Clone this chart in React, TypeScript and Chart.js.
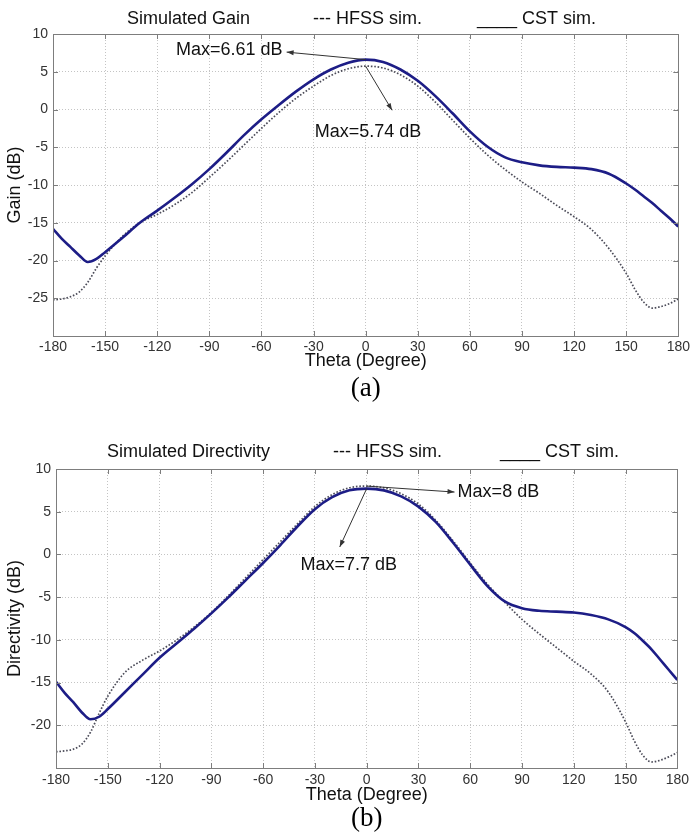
import React, { useEffect, useRef } from 'react';
import { Chart, registerables } from 'chart.js';

Chart.register(...registerables);

// ---------- data ----------
const angles = [
  -180, -175, -170, -165, -160, -155, -150, -140, -130, -120, -110, -100, -90, -80, -70, -60, -50, -40, -30,
  -20, -10, 0, 10, 20, 30, 40, 50, 60, 70, 80, 90, 100, 110, 120, 130, 140, 150, 155, 160, 165, 170, 175, 180,
];

const gainCst = [
  -15.8, -17.1, -18.2, -19.3, -20.2, -19.8, -18.9, -17.0, -15.0, -13.4, -11.7, -9.9, -7.9, -5.7, -3.4, -1.3,
  0.6, 2.4, 4.0, 5.3, 6.2, 6.61, 6.3, 5.3, 3.8, 1.8, -0.5, -2.9, -4.9, -6.3, -7.0, -7.4, -7.6, -7.7, -7.9,
  -8.5, -9.8, -10.6, -11.5, -12.4, -13.4, -14.4, -15.5,
];

const gainHfss = [
  -25.2, -25.1, -24.8, -24.2, -22.9, -21.0, -19.4, -16.8, -15.0, -13.9, -12.6, -11.0, -9.0, -6.9, -4.7, -2.5,
  -0.4, 1.5, 3.1, 4.5, 5.4, 5.74, 5.5, 4.6, 3.1, 1.0, -1.4, -3.8, -6.0, -7.9, -9.6, -11.1, -12.7, -14.2, -15.9,
  -18.4, -21.7, -23.8, -25.5, -26.3, -26.1, -25.7, -25.1,
];

const dirCst = [
  -14.9, -16.2, -17.3, -18.5, -19.3, -19.0, -18.1, -16.1, -14.1, -12.1, -10.4, -8.7, -6.9, -5.0, -3.0, -1.0,
  1.1, 3.3, 5.3, 6.7, 7.5, 7.7, 7.5, 6.8, 5.6, 3.8, 1.4, -1.2, -3.7, -5.5, -6.3, -6.6, -6.7, -6.8, -7.1,
  -7.6, -8.5, -9.2, -10.1, -11.1, -12.3, -13.5, -14.7,
];

const dirHfss = [
  -23.1, -23.0, -22.8, -22.2, -20.8, -18.6, -16.6, -13.8, -12.4, -11.3, -10.0, -8.5, -6.8, -4.8, -2.7, -0.6,
  1.5, 3.6, 5.6, 7.0, 7.8, 8.0, 7.8, 7.1, 5.9, 4.0, 1.6, -1.0, -3.5, -5.6, -7.6, -9.3, -10.9, -12.5, -14.0,
  -16.1, -19.6, -21.8, -23.5, -24.3, -24.1, -23.7, -23.2,
];

const thetaTicks = [-180, -150, -120, -90, -60, -30, 0, 30, 60, 90, 120, 150, 180];
const gainTicks = [-30, -25, -20, -15, -10, -5, 0, 5, 10];
const dirTicks = [-25, -20, -15, -10, -5, 0, 5, 10];

const SANS = '"Liberation Sans", Arial, Helvetica, sans-serif';
const SERIF = '"Liberation Serif", "Times New Roman", serif';

const maxOf = (a: number[]) => Math.max(...a);

type Note = { text: string; from: [number, number]; tip: [number, number]; at: [number, number]; align: CanvasTextAlign };
type Cfg = {
  titles: { text: string; x: number }[];
  titleY: number;
  caption: string;
  captionY: number;
  notes: Note[];
};

function makeDecor(cfg: Cfg) {
  return {
    id: 'decor',
    afterDraw(chart: any) {
      const { ctx, chartArea: a, scales } = chart;
      const xs = scales.x;
      const ys = scales.y;
      ctx.save();
      ctx.setLineDash([]);
      // box
      ctx.strokeStyle = '#7d7d7d';
      ctx.lineWidth = 1;
      ctx.strokeRect(Math.round(a.left) + 0.5, Math.round(a.top) + 0.5, Math.round(a.right - a.left), Math.round(a.bottom - a.top));
      // inward ticks
      const L = 5;
      ctx.beginPath();
      for (const t of xs.ticks) {
        const px = Math.round(xs.getPixelForValue(t.value)) + 0.5;
        ctx.moveTo(px, a.bottom);
        ctx.lineTo(px, a.bottom - L);
        ctx.moveTo(px, a.top);
        ctx.lineTo(px, a.top + L);
      }
      for (const t of ys.ticks) {
        const py = Math.round(ys.getPixelForValue(t.value)) + 0.5;
        ctx.moveTo(a.left, py);
        ctx.lineTo(a.left + L, py);
        ctx.moveTo(a.right, py);
        ctx.lineTo(a.right - L, py);
      }
      ctx.stroke();
      // title row
      ctx.fillStyle = '#111';
      ctx.font = `18px ${SANS}`;
      ctx.textBaseline = 'middle';
      ctx.textAlign = 'left';
      for (const t of cfg.titles) ctx.fillText(t.text, t.x, cfg.titleY);
      // annotations
      for (const n of cfg.notes) {
        const x0 = xs.getPixelForValue(n.from[0]);
        const y0 = ys.getPixelForValue(n.from[1]);
        const x1 = xs.getPixelForValue(n.tip[0]);
        const y1 = ys.getPixelForValue(n.tip[1]);
        ctx.strokeStyle = '#333';
        ctx.fillStyle = '#333';
        ctx.lineWidth = 1;
        ctx.beginPath();
        ctx.moveTo(x0, y0);
        ctx.lineTo(x1, y1);
        ctx.stroke();
        const ang = Math.atan2(y1 - y0, x1 - x0);
        const h = 7;
        const w = 2.5;
        ctx.beginPath();
        ctx.moveTo(x1, y1);
        ctx.lineTo(x1 - h * Math.cos(ang) + w * Math.sin(ang), y1 - h * Math.sin(ang) - w * Math.cos(ang));
        ctx.lineTo(x1 - h * Math.cos(ang) - w * Math.sin(ang), y1 - h * Math.sin(ang) + w * Math.cos(ang));
        ctx.closePath();
        ctx.fill();
        ctx.fillStyle = '#111';
        ctx.textAlign = n.align;
        ctx.fillText(n.text, xs.getPixelForValue(n.at[0]), ys.getPixelForValue(n.at[1]));
      }
      // caption
      ctx.font = `27px ${SERIF}`;
      ctx.textAlign = 'center';
      ctx.fillStyle = '#000';
      ctx.fillText(cfg.caption, (a.left + a.right) / 2, cfg.captionY);
      ctx.restore();
    },
  };
}

type ChartProps = {
  cst: number[];
  hfss: number[];
  yTicks: number[];
  yTitle: string;
  pad: { top: number; right: number; bottom: number };
  yWidth: number;
  xHeight: number;
  xTickPad: number;
  decor: Cfg;
};

function PatternChart(p: ChartProps) {
  const ref = useRef<HTMLCanvasElement>(null);
  useEffect(() => {
    const yMin = p.yTicks[0];
    const yMax = p.yTicks[p.yTicks.length - 1];
    const chart = new Chart(ref.current as HTMLCanvasElement, {
      type: 'line',
      data: {
        datasets: [
          {
            label: 'CST sim.',
            data: angles.map((x, i) => ({ x, y: p.cst[i] })),
            borderColor: '#1d1d86',
            borderWidth: 2.6,
            pointRadius: 0,
            cubicInterpolationMode: 'monotone',
            fill: false,
          },
          {
            label: 'HFSS sim.',
            data: angles.map((x, i) => ({ x, y: p.hfss[i] })),
            borderColor: '#4b4b58',
            borderWidth: 1.7,
            borderDash: [1.6, 1.8],
            pointRadius: 0,
            cubicInterpolationMode: 'monotone',
            fill: false,
          },
        ],
      },
      options: {
        animation: false,
        responsive: false,
        devicePixelRatio: 1,
        layout: { padding: { left: 0, top: p.pad.top, right: p.pad.right, bottom: p.pad.bottom } },
        plugins: { legend: { display: false }, tooltip: { enabled: false }, title: { display: false } },
        scales: {
          x: {
            type: 'linear',
            min: -180,
            max: 180,
            afterBuildTicks: (s: any) => {
              s.ticks = thetaTicks.map((v) => ({ value: v }));
            },
            afterFit: (s: any) => {
              s.height = p.xHeight;
            },
            ticks: {
              autoSkip: false,
              maxRotation: 0,
              padding: p.xTickPad,
              color: '#333',
              font: { family: SANS, size: 14 },
            },
            grid: { color: '#c4c4c4', lineWidth: 1, drawTicks: false },
            border: { display: false, dash: [1, 2] },
            title: {
              display: true,
              text: 'Theta (Degree)',
              color: '#111',
              font: { family: SANS, size: 18 },
              padding: { top: 0, bottom: 0 },
            },
          },
          y: {
            type: 'linear',
            min: yMin,
            max: yMax,
            afterBuildTicks: (s: any) => {
              s.ticks = p.yTicks.map((v) => ({ value: v }));
            },
            afterFit: (s: any) => {
              s.width = p.yWidth;
            },
            ticks: {
              padding: 5,
              color: '#333',
              font: { family: SANS, size: 14 },
              callback: (v: any) => (Number(v) === yMin ? '' : String(v)),
            },
            grid: { color: '#c4c4c4', lineWidth: 1, drawTicks: false },
            border: { display: false, dash: [1, 2] },
            title: {
              display: true,
              text: p.yTitle,
              color: '#111',
              font: { family: SANS, size: 18 },
              padding: { top: 4, bottom: 0 },
            },
          },
        },
      },
      plugins: [makeDecor(p.decor) as any],
    } as any);
    return () => chart.destroy();
  }, []);
  return <canvas ref={ref} width={693} height={420} style={{ display: 'block' }} />;
}

const gainDecor: Cfg = {
  titles: [
    { text: 'Simulated Gain', x: 127 },
    { text: '--- HFSS sim.', x: 313 },
    { text: '____ CST sim.', x: 477 },
  ],
  titleY: 19,
  caption: '(a)',
  captionY: 389,
  notes: [
    { text: `Max=${maxOf(gainCst)} dB`, from: [0, maxOf(gainCst)], tip: [-45.5, 7.6], at: [-47.9, 7.9], align: 'right' },
    { text: `Max=${maxOf(gainHfss)} dB`, from: [0, maxOf(gainHfss)], tip: [15.2, -0.1], at: [1.4, -3.0], align: 'center' },
  ],
};

const dirDecor: Cfg = {
  titles: [
    { text: 'Simulated Directivity', x: 107 },
    { text: '--- HFSS sim.', x: 333 },
    { text: '____ CST sim.', x: 500 },
  ],
  titleY: 32,
  caption: '(b)',
  captionY: 399,
  notes: [
    { text: `Max=${maxOf(dirHfss)} dB`, from: [0, maxOf(dirHfss)], tip: [50.9, 7.3], at: [52.7, 7.3], align: 'left' },
    { text: `Max=${maxOf(dirCst)} dB`, from: [0, maxOf(dirCst)], tip: [-15.6, 0.87], at: [-10.4, -1.24], align: 'center' },
  ],
};

export default function App() {
  return (
    <div style={{ position: 'absolute', left: 0, top: 0, width: 693, height: 840, background: '#fff' }}>
      <div style={{ position: 'absolute', left: 0, top: 0 }}>
        <PatternChart
          cst={gainCst}
          hfss={gainHfss}
          yTicks={gainTicks}
          yTitle="Gain (dB)"
          pad={{ top: 34, right: 13, bottom: 48.2 }}
          yWidth={53}
          xHeight={35.8}
          xTickPad={3}
          decor={gainDecor}
        />
      </div>
      <div style={{ position: 'absolute', left: 0, top: 420 }}>
        <PatternChart
          cst={dirCst}
          hfss={dirHfss}
          yTicks={dirTicks}
          yTitle="Directivity (dB)"
          pad={{ top: 49, right: 15, bottom: 34.2 }}
          yWidth={56}
          xHeight={37.8}
          xTickPad={4}
          decor={dirDecor}
        />
      </div>
    </div>
  );
}
